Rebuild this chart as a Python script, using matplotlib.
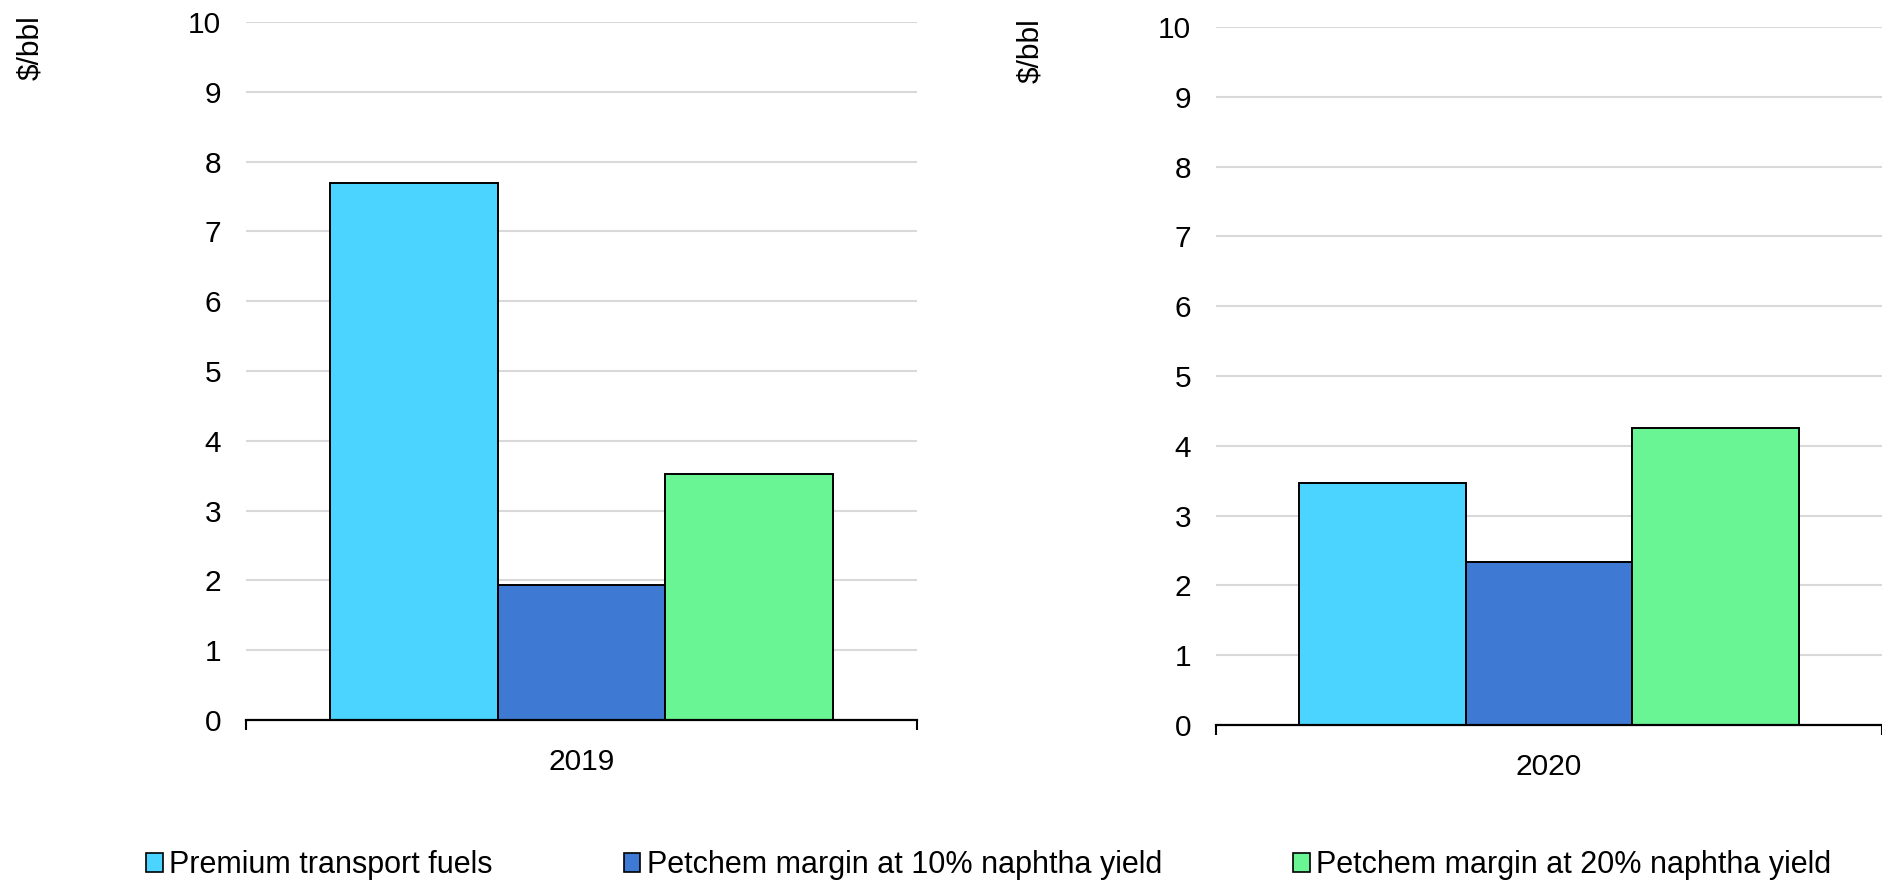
import matplotlib.pyplot as plt
from matplotlib.patches import Patch

plt.rcParams['font.family'] = ['Liberation Sans', 'DejaVu Sans']

years = ['2019', '2020']
series = ['Premium transport fuels',
          'Petchem margin at 10% naphtha yield',
          'Petchem margin at 20% naphtha yield']
values_2019 = [7.7, 1.93, 3.52]
values_2020 = [3.46, 2.33, 4.25]
colors = ['#4AD4FF', '#3E7AD3', '#69F594']

W, H = 1883, 884
fig = plt.figure(figsize=(W / 100, H / 100), dpi=100)

# axes rectangles in pixels: left, right, top, bottom
boxes = [(246, 917, 22, 720), (1216, 1882, 27, 725)]
ylab_pos = [(30, 15), (1030, 18)]
fs = 21.5

for year, vals, (l, r, t, b), (lx, ly) in zip(years, [values_2019, values_2020], boxes, ylab_pos):
    ax = fig.add_axes([l / W, 1 - b / H, (r - l) / W, (b - t) / H])
    offsets = [-0.25, 0, 0.25]
    for off, v, c in zip(offsets, vals, colors):
        ax.bar(off, v, width=0.25, color=c, edgecolor='black', linewidth=1.4, zorder=3)
    ax.set_xlim(-0.5, 0.5)
    ax.set_ylim(0, 10)
    ax.set_yticks(range(0, 11))
    ax.yaxis.grid(True, color='#d9d9d9', linewidth=1.5, zorder=0)
    ax.set_xticks([0])
    ax.set_xticklabels([year])
    ax.set_xticks([-0.5, 0.5], minor=True)
    ax.tick_params(axis='x', which='major', length=0, pad=20, labelsize=fs)
    ax.tick_params(axis='x', which='minor', length=7, width=1.5, direction='out')
    ax.tick_params(axis='y', length=0, pad=18, labelsize=fs)
    for s in ['top', 'right', 'left']:
        ax.spines[s].set_visible(False)
    ax.spines['bottom'].set_linewidth(1.6)
    ax.spines['bottom'].set_zorder(4)
    fig.text(lx / W, 1 - ly / H, '$/bbl', rotation=90, ha='center', va='top', fontsize=fs)

handles = [Patch(facecolor=c, edgecolor='black', linewidth=1.2) for c in colors]
fig.legend(handles, series, loc='center', bbox_to_anchor=(0.525, 0.021), ncol=3,
           frameon=False, fontsize=22, handlelength=0.55, handleheight=0.55,
           handletextpad=0.2, columnspacing=4.3)

fig.savefig('out.png', dpi=100)
